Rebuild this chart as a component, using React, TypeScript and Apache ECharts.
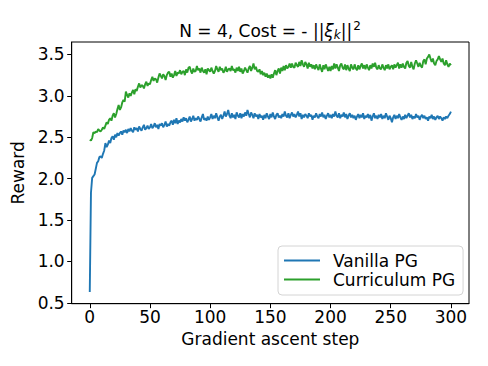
import React, { useEffect, useRef } from "react";
import * as echarts from "echarts";

const steps: number[] = Array.from({ length: 301 }, (_, i) => i);

const vanillaPG: number[] = [
  0.63, 1.83, 2.01, 2.03, 2.05, 2.12, 2.19, 2.21, 2.26, 2.27,
  2.25, 2.30, 2.34, 2.43, 2.38, 2.41, 2.46, 2.43, 2.49, 2.51,
  2.47, 2.53, 2.50, 2.55, 2.52, 2.55, 2.57, 2.53, 2.58, 2.56,
  2.59, 2.55, 2.60, 2.57, 2.61, 2.58, 2.56, 2.62, 2.59, 2.61,
  2.57, 2.63, 2.60, 2.58, 2.62, 2.65, 2.59, 2.61, 2.64, 2.60,
  2.62, 2.66, 2.61, 2.63, 2.67, 2.62, 2.65, 2.60, 2.66, 2.64,
  2.67, 2.62, 2.65, 2.69, 2.63, 2.66, 2.64, 2.68, 2.70, 2.65,
  2.71, 2.67, 2.73, 2.66, 2.70, 2.68, 2.72, 2.69, 2.74, 2.70,
  2.73, 2.68, 2.71, 2.75, 2.69, 2.72, 2.76, 2.70, 2.73, 2.71,
  2.75, 2.72, 2.69, 2.74, 2.78, 2.71, 2.73, 2.70, 2.75, 2.71,
  2.74, 2.78, 2.72, 2.76, 2.73, 2.79, 2.74, 2.70, 2.75, 2.77,
  2.72, 2.76, 2.81, 2.75, 2.78, 2.83, 2.76, 2.73, 2.79, 2.74,
  2.77, 2.72, 2.80, 2.76, 2.74, 2.79, 2.73, 2.78, 2.75, 2.80,
  2.76, 2.83, 2.78, 2.74, 2.80, 2.77, 2.73, 2.79, 2.75, 2.77,
  2.72, 2.78, 2.74, 2.76, 2.71, 2.77, 2.73, 2.79, 2.75, 2.72,
  2.78, 2.74, 2.80, 2.75, 2.72, 2.77, 2.79, 2.74, 2.76, 2.73,
  2.78, 2.75, 2.81, 2.76, 2.74, 2.79, 2.73, 2.77, 2.80, 2.75,
  2.78, 2.74, 2.77, 2.81, 2.75, 2.79, 2.72, 2.77, 2.74, 2.78,
  2.76, 2.73, 2.79, 2.75, 2.77, 2.71, 2.76, 2.74, 2.79, 2.75,
  2.73, 2.78, 2.75, 2.80, 2.74, 2.77, 2.72, 2.76, 2.79, 2.74,
  2.77, 2.73, 2.78, 2.75, 2.81, 2.76, 2.74, 2.79, 2.73, 2.77,
  2.75, 2.80, 2.74, 2.78, 2.72, 2.76, 2.79, 2.74, 2.77, 2.73,
  2.76, 2.71, 2.75, 2.78, 2.73, 2.77, 2.74, 2.79, 2.72, 2.76,
  2.74, 2.78, 2.73, 2.77, 2.70, 2.75, 2.79, 2.73, 2.76, 2.72,
  2.77, 2.74, 2.78, 2.72, 2.76, 2.73, 2.79, 2.75, 2.71, 2.76,
  2.73, 2.68, 2.74, 2.77, 2.72, 2.76, 2.73, 2.78, 2.74, 2.71,
  2.75, 2.72, 2.77, 2.73, 2.76, 2.79, 2.74, 2.77, 2.72, 2.75,
  2.73, 2.78, 2.74, 2.76, 2.71, 2.75, 2.77, 2.73, 2.76, 2.72,
  2.74, 2.70, 2.75, 2.73, 2.77, 2.72, 2.75, 2.71, 2.74, 2.76,
  2.72, 2.75, 2.73, 2.70, 2.74, 2.72, 2.75, 2.73, 2.76, 2.78,
  2.81,
];

const curriculumPG: number[] = [
  2.47, 2.46, 2.49, 2.56, 2.55, 2.57, 2.56, 2.60, 2.58, 2.57,
  2.59, 2.62, 2.60, 2.64, 2.68, 2.66, 2.71, 2.73, 2.70, 2.76,
  2.79, 2.74, 2.78, 2.84, 2.89, 2.83, 2.86, 2.92, 2.95, 2.93,
  3.05, 3.01, 2.98, 3.03, 3.00, 3.04, 3.07, 3.02, 3.08, 3.06,
  3.11, 3.15, 3.10, 3.13, 3.12, 3.09, 3.14, 3.17, 3.12, 3.15,
  3.14, 3.19, 3.23, 3.18, 3.21, 3.20, 3.16, 3.22, 3.27, 3.24,
  3.21, 3.26, 3.24, 3.19, 3.25, 3.28, 3.29, 3.23, 3.27, 3.22,
  3.25, 3.30, 3.24, 3.28, 3.27, 3.31, 3.26, 3.29, 3.30, 3.25,
  3.32, 3.28, 3.34, 3.35, 3.30, 3.27, 3.33, 3.29, 3.30, 3.36,
  3.31, 3.33, 3.28, 3.34, 3.30, 3.28, 3.32, 3.26, 3.33, 3.31,
  3.29, 3.34, 3.30, 3.27, 3.30, 3.36, 3.32, 3.29, 3.35, 3.31,
  3.33, 3.28, 3.30, 3.35, 3.29, 3.32, 3.33, 3.30, 3.36, 3.31,
  3.32, 3.28, 3.34, 3.30, 3.35, 3.29, 3.33, 3.27, 3.30, 3.34,
  3.31, 3.28, 3.33, 3.36, 3.30, 3.34, 3.39, 3.32, 3.35, 3.30,
  3.29, 3.32, 3.26, 3.30, 3.25, 3.28, 3.23, 3.27, 3.22, 3.25,
  3.21, 3.26, 3.22, 3.27, 3.31, 3.25, 3.30, 3.33, 3.27, 3.34,
  3.30, 3.36, 3.31, 3.37, 3.33, 3.35, 3.39, 3.34, 3.39, 3.35,
  3.34, 3.40, 3.37, 3.35, 3.41, 3.36, 3.43, 3.38, 3.35, 3.41,
  3.38, 3.33, 3.40, 3.35, 3.38, 3.33, 3.37, 3.32, 3.38, 3.34,
  3.31, 3.38, 3.33, 3.29, 3.37, 3.32, 3.38, 3.34, 3.30, 3.35,
  3.30, 3.36, 3.32, 3.39, 3.33, 3.38, 3.34, 3.30, 3.37, 3.39,
  3.34, 3.32, 3.38, 3.31, 3.37, 3.33, 3.30, 3.38, 3.34, 3.32,
  3.38, 3.33, 3.31, 3.37, 3.32, 3.36, 3.39, 3.33, 3.37, 3.32,
  3.38, 3.34, 3.31, 3.37, 3.33, 3.39, 3.35, 3.40, 3.34, 3.32,
  3.37, 3.33, 3.32, 3.38, 3.34, 3.31, 3.37, 3.33, 3.38, 3.32,
  3.35, 3.37, 3.32, 3.38, 3.34, 3.37, 3.40, 3.33, 3.38, 3.34,
  3.39, 3.35, 3.33, 3.40, 3.42, 3.36, 3.34, 3.41, 3.35, 3.32,
  3.39, 3.43, 3.39, 3.35, 3.40, 3.36, 3.34, 3.42, 3.44, 3.38,
  3.45, 3.47, 3.50, 3.45, 3.41, 3.45, 3.39, 3.37, 3.42, 3.44,
  3.48, 3.44, 3.41, 3.45, 3.39, 3.37, 3.43, 3.38, 3.35, 3.39,
  3.37,
];

const xTicks: number[] = [0, 50, 100, 150, 200, 250, 300];
const yTicks: number[] = [0.5, 1.0, 1.5, 2.0, 2.5, 3.0, 3.5];

const FONT = "DejaVu Sans";
const FS = 17;

export default function App() {
  const ref = useRef<HTMLDivElement>(null);
  useEffect(() => {
    if (!ref.current) return;
    const chart = echarts.init(ref.current, null, { renderer: "svg" });
    chart.setOption({
      animation: false,
      backgroundColor: "#ffffff",
      textStyle: { fontFamily: FONT },
      grid: {
        left: 71.7,
        right: 19,
        top: 42,
        bottom: 62.3,
        show: true,
        borderColor: "#000000",
        borderWidth: 1,
        containLabel: false,
      },
      graphic: [
        {
          type: "text",
          x: 270,
          y: 31,
          style: {
            text: "N = 4, Cost = - ||{xi|ξ}{sub|k}||{sup|2}",
            fontFamily: FONT,
            fontSize: FS,
            fill: "#000",
            align: "center",
            verticalAlign: "middle",
            rich: {
              xi: { fontFamily: FONT, fontSize: FS, fontStyle: "italic", fill: "#000" },
              sub: { fontFamily: FONT, fontSize: 12, fontStyle: "italic", padding: [8, 0, 0, 0], fill: "#000" },
              sup: { fontFamily: FONT, fontSize: 12, padding: [0, 0, 10, 1], fill: "#000" },
            },
          },
        },
      ],
      legend: {
        orient: "vertical",
        left: 278,
        top: 246,
        padding: [5, 8, 6, 6],
        itemGap: 0,
        itemWidth: 36,
        itemHeight: 2,
        icon: "rect",
        backgroundColor: "rgba(255,255,255,0.8)",
        borderColor: "#d4d4d4",
        borderWidth: 1,
        borderRadius: 4,
        textStyle: {
          fontFamily: FONT,
          fontSize: FS,
          color: "#000",
          lineHeight: 19,
          padding: [0, 0, 0, 8],
        },
        data: ["Vanilla PG", "Curriculum PG"],
      },
      xAxis: {
        type: "value",
        min: -15,
        max: 315,
        name: "Gradient ascent step",
        nameLocation: "middle",
        nameGap: 23,
        nameTextStyle: { fontFamily: FONT, fontSize: FS, color: "#000" },
        axisLine: { show: true, onZero: false, lineStyle: { color: "#000", width: 1 } },
        axisTick: { show: true, length: 4.5, customValues: xTicks, lineStyle: { color: "#000" } },
        axisLabel: {
          customValues: xTicks,
          fontFamily: FONT,
          fontSize: FS,
          color: "#000",
          margin: 5,
        },
        splitLine: { show: false },
      },
      yAxis: {
        type: "value",
        min: 0.49,
        max: 3.65,
        name: "Reward",
        nameLocation: "middle",
        nameRotate: 90,
        nameGap: 32,
        nameTextStyle: { fontFamily: FONT, fontSize: FS, color: "#000" },
        axisLine: { show: true, onZero: false, lineStyle: { color: "#000", width: 1 } },
        axisTick: { show: true, length: 4.5, customValues: yTicks, lineStyle: { color: "#000" } },
        axisLabel: {
          customValues: yTicks,
          fontFamily: FONT,
          fontSize: FS,
          color: "#000",
          margin: 7,
          formatter: (v: number) => v.toFixed(1),
        },
        splitLine: { show: false },
      },
      series: [
        {
          name: "Vanilla PG",
          type: "line",
          data: steps.map((s, i) => [s, vanillaPG[i]]),
          showSymbol: false,
          symbol: "none",
          color: "#1f77b4",
          lineStyle: { color: "#1f77b4", width: 1.9 },
        },
        {
          name: "Curriculum PG",
          type: "line",
          data: steps.map((s, i) => [s, curriculumPG[i]]),
          showSymbol: false,
          symbol: "none",
          color: "#2ca02c",
          lineStyle: { color: "#2ca02c", width: 1.9 },
        },
      ],
    });
    return () => chart.dispose();
  }, []);
  return (
    <div
      ref={ref}
      style={{ position: "fixed", left: 0, top: 0, width: 488, height: 366 }}
    />
  );
}
